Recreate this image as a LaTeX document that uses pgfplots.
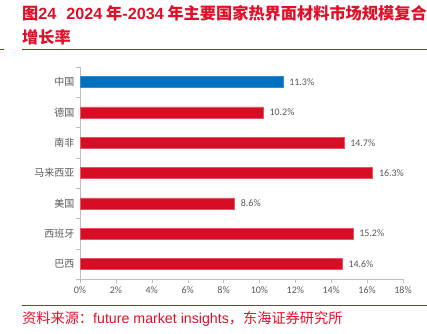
\documentclass[border=0pt]{standalone}
\usepackage{pgfplots}
\pgfplotsset{compat=1.18}
\usepackage{fontspec}
\setmainfont{Noto Sans CJK SC}
\newfontfamily\numfont{Carlito}
\newfontfamily\lat{Liberation Sans}
\definecolor{tred}{HTML}{E0102A}
\definecolor{bred}{HTML}{D70C25}
\definecolor{bblue}{HTML}{0070C0}
\definecolor{tgray}{HTML}{595959}
\definecolor{agray}{HTML}{BFBFBF}
\begin{document}
\begin{tikzpicture}[x=1bp,y=1bp]
\useasboundingbox (0,0) rectangle (427,334);
% title
\node[anchor=base west,inner sep=0pt,text=tred,font=\fontsize{16.2bp}{18bp}\selectfont\bfseries] at (22,315) {图{\lat\bfseries 24}\hspace{10bp}{\lat\bfseries 2024} 年{\lat\bfseries -2034} 年主要国家热界面材料市场规模复合};
\node[anchor=base west,inner sep=0pt,text=tred,font=\fontsize{16.2bp}{18bp}\selectfont\bfseries] at (22,291) {增长率};
\draw[tred,line width=1bp] (22,284) -- (427,284);
\draw[tred,line width=1bp] (0,284) -- (4,284);
\draw[tred,line width=1bp] (22,28) -- (427,28);
\node[anchor=base west,inner sep=0pt,text=tred,font=\fontsize{14.2bp}{16bp}\selectfont] at (22,11) {资料来源：{\lat future market insights}，东海证券研究所};
\begin{axis}[
  at={(80bp,55bp)}, anchor=south west,
  scale only axis, width=323bp, height=212bp,
  xmin=0, xmax=18, ymin=-0.5, ymax=6.5, y dir=reverse,
  xtick={0,2,...,18},
  xticklabel={\numfont\pgfmathprintnumber{\tick}\%},
  ytick={-0.5,0.5,...,6.5},
  yticklabels={},
  extra y ticks={0,...,6},
  extra y tick labels={中国,德国,南非,马来西亚,美国,西班牙,巴西},
  extra y tick style={major tick length=0pt, tick style={draw=none}},
  major tick length=3.5bp,
  tick align=outside,
  tick style={draw=agray},
  axis x line*=bottom, axis y line*=left,
  axis line style={draw=agray, line width=0.8bp},
  x axis line style={-}, y axis line style={-},
  tick label style={text=tgray},
  xticklabel style={font=\fontsize{10bp}{12bp}\selectfont, yshift=-1bp},
  yticklabel style={font=\fontsize{10bp}{12bp}\selectfont, xshift=-2bp},
  /pgf/number format/assume math mode=true,
  xbar, bar width=11bp, bar shift=0pt,
  nodes near coords={\numfont\pgfmathprintnumber[fixed,precision=1,fixed zerofill]{\pgfplotspointmeta}\%},
  every node near coord/.append style={anchor=west, text=tgray, font=\fontsize{10bp}{12bp}\selectfont, xshift=3bp},
  clip=false,
]
\addplot[fill=bblue, draw=bblue!80!white] coordinates {(11.3,0)};
\addplot[fill=bred, draw=bred!70!white] coordinates {(10.2,1) (14.7,2) (16.3,3) (8.6,4) (15.2,5) (14.6,6)};
\end{axis}
\end{tikzpicture}
\end{document}
